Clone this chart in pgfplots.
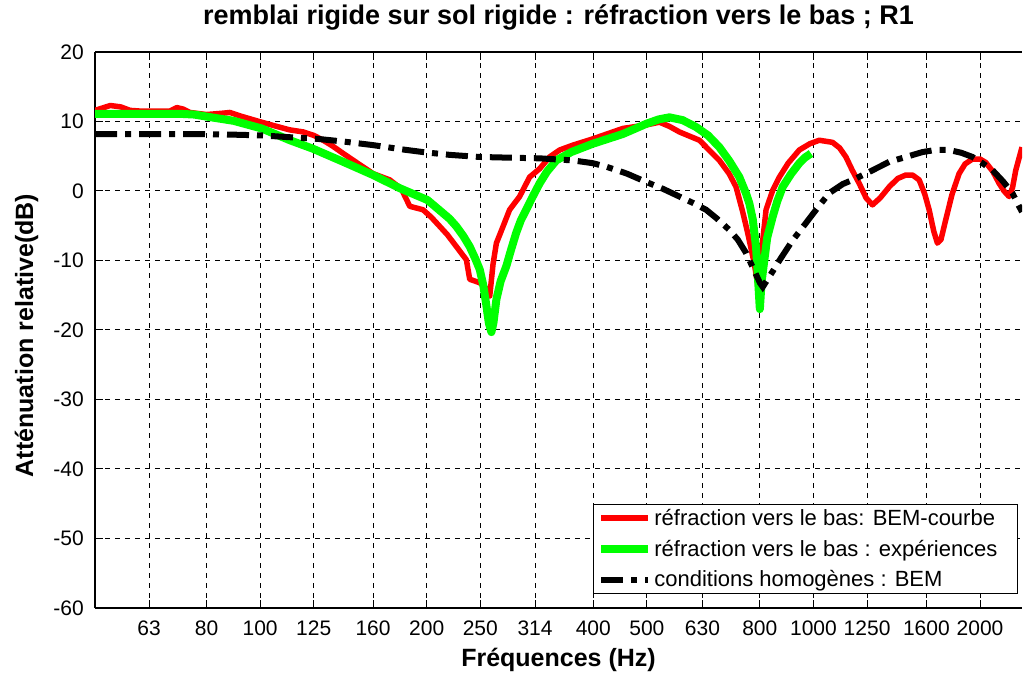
\documentclass[border=0pt]{standalone}
\usepackage{fontspec}
\setmainfont{Liberation Sans}
\usepackage{pgfplots}
\pgfplotsset{compat=1.18}
\definecolor{mgreen}{RGB}{0,255,0}
\begin{document}
\begin{tikzpicture}
\begin{axis}[
  scale only axis, width=927pt, height=556pt,
  xmode=log, xmin=50.3, xmax=2382, ymin=-60, ymax=20,
  xtick={63,80,100,125,160,200,250,314,400,500,630,800,1000,1250,1600,2000},
  xticklabels={63,80,100,125,160,200,250,314,400,500,630,800,1000,1250,1600,2000},
  minor xtick={},
  ytick={-60,-50,...,20},
  axis y line*=left,
  grid=major,
  grid style={black, line width=1pt, dash pattern=on 5pt off 5pt},
  axis line style={black, line width=1.8pt},
  major tick length=8pt,
  tick style={black, line width=1pt},
  /pgf/number format/assume math mode=true,
  ticklabel style={font=\fontsize{21}{21}\selectfont},
  xticklabel style={anchor=base, yshift=-27pt},
  yticklabel style={anchor=east, inner sep=0pt, xshift=-11pt},
  title={remblai rigide sur sol rigide : réfraction vers le bas ; R1},
  title style={at={(axis description cs:0.5,1.0378)}, anchor=base, font=\fontsize{27}{27}\selectfont\bfseries},
  xlabel={Fréquences (Hz)},
  xlabel style={at={(axis description cs:0.5,-0.1061)}, anchor=base, font=\fontsize{25}{25}\selectfont\bfseries},
  ylabel={Atténuation relative(dB)},
  ylabel style={at={(axis description cs:-0.0669,0.49)}, anchor=base, font=\fontsize{25}{25}\selectfont\bfseries},
  legend style={at={(axis description cs:0.9957,0.0252)}, anchor=south east, draw=black, line width=1pt,
    font=\fontsize{22}{22}\selectfont, inner xsep=4pt, inner ysep=3pt, row sep=9pt},
  legend cell align=left,
  legend image code/.code={\draw[#1] (0pt,0pt) -- (40pt,0pt); \path (0pt,0pt) -- (47pt,0pt);},
]
\addplot[red, line width=5.5pt, line join=round] coordinates {
(50.3,11.6)(53.6,12.3)(56,12.1)(58.2,11.6)(60.7,11.5)(68.7,11.5)(70.7,12.0)(72.5,11.8)(74.7,11.3)
(80,11.0)(85.8,11.2)(88.2,11.3)(92,10.8)(100.6,9.9)(107.1,9.3)(113,8.8)(119.6,8.5)(125,8.0)
(130,7.3)(135,6.5)(141.3,5.4)(150,4.0)(160,2.5)(171.5,1.6)(180,0.3)(186.4,-2.2)(197,-2.7)
(204,-3.8)(211.2,-5.1)(218,-6.3)(226.3,-8.0)(235.9,-9.9)(239.2,-12.7)(249.4,-13.2)(256,-14.0)
(260,-15.1)(263.6,-10.5)(267.3,-7.5)(274.8,-5.1)(282.4,-2.7)(294.4,-0.8)(306.9,2.0)(320,3.2)
(333.5,4.9)(347.8,5.9)(367.6,6.6)(399.3,7.5)(452.4,9.0)(498.6,9.5)(526.9,9.9)(549,9.3)
(572.4,8.5)(622.2,7.3)(676.1,4.4)(704,2.5)(724.6,0.6)(745,-3)(760.5,-6)(782.2,-10.5)(795,-14)
(805,-9)(821,-2.7)(844,0.1)(867.8,2.0)(900,4.0)(942.8,5.9)(985,6.8)(1024.5,7.3)(1082.6,7.0)
(1115,6.2)(1144.6,4.9)(1175,3.0)(1209.6,1.1)(1245,-1.0)(1278.4,-2.0)(1320,-1.0)(1370.8,0.6)
(1420,1.8)(1469,2.3)(1510,2.3)(1552.5,1.6)(1590,-0.5)(1618.3,-2.7)(1650,-5.8)(1675.2,-7.5)
(1700,-7.0)(1734.6,-4.1)(1780,-0.5)(1833.3,2.5)(1880,3.9)(1938,4.6)(2000,4.6)(2048.7,4.1)
(2110,2.8)(2165.3,1.1)(2210,0.0)(2257.3,-0.8)(2290,0.5)(2321,3.0)(2382,6.3)
};
\addlegendentry{réfraction vers le bas: BEM-courbe}
\addplot[mgreen, line width=8pt, line join=round] coordinates {
(50.3,11.1)(60,11.1)(71.7,11.1)(76,11.0)(80.1,10.7)(89.5,10.1)(100.6,9.0)(113.2,7.3)(124.4,6.1)
(141.3,4.2)(160,2.3)(178.8,0.4)(200.6,-1.3)(211.2,-2.8)(220,-4.0)(226.3,-5.1)(233,-6.5)
(239.2,-8.0)(245,-9.8)(249.4,-11.3)(253,-13.5)(256.4,-16.5)(259,-19)(261.8,-20.3)(264,-19)
(267.3,-15.6)(272,-13)(278.6,-10.8)(284,-8.5)(290.3,-6.0)(296,-4.2)(302.6,-2.7)(310,-1)
(320,1.1)(330,2.8)(343,4.4)(365,5.6)(399.3,6.8)(452.4,8.2)(499.9,9.7)(525,10.3)(549.1,10.6)
(580,10.2)(613.7,9.2)(645,8.0)(676.1,6.3)(705,4.3)(734.7,2.0)(755,-0.3)(766,-1.8)(777,-4.1)
(787.5,-8.0)(794,-12.5)(800,-17.0)(806,-13)(815,-10)(825,-6.7)(844,-3.7)(860,-1.5)(880,0.6)
(910,2.4)(942.8,4.0)(965,4.8)(989.7,5.4)
};
\addlegendentry{réfraction vers le bas : expériences\rule{14pt}{0pt}}
\addplot[black, line width=6pt, dash pattern=on 22pt off 8pt on 6pt off 8pt] coordinates {
(50.3,8.2)(60,8.2)(74.7,8.2)(90,8.1)(100.6,8.0)(115,7.7)(127,7.5)(142,7.1)(160,6.6)(180,6.0)
(197,5.6)(220,5.2)(248.7,4.9)(280,4.8)(320,4.7)(367.6,4.4)(399.3,4.0)(422.2,3.5)(460,2.5)
(498.6,1.3)(535,0.3)(572.4,-0.8)(605,-1.7)(639.7,-2.7)(670,-4.0)(704.7,-5.6)(730,-7.0)
(755.3,-8.9)(780,-11.3)(800,-13.2)(809.8,-13.8)(825,-12.8)(845,-11.5)(867.8,-10.0)(915,-7.2)
(969.4,-4.6)(1020,-2.3)(1068.1,-0.3)(1130,1.0)(1193.1,1.8)(1280,3.0)(1370.8,4.2)(1470,4.9)
(1574,5.6)(1660,5.9)(1758.8,5.9)(1850,5.5)(1938,4.9)(2020,4.0)(2106.5,3.0)(2200,1.4)
(2288.7,-0.3)(2352.8,-2.2)(2382,-3.0)
};
\addlegendentry{conditions homogènes : BEM}
\end{axis}
\path ([xshift=-95pt,yshift=-65pt]current axis.south west) rectangle ([xshift=1pt,yshift=52pt]current axis.north east);
\end{tikzpicture}
\end{document}
